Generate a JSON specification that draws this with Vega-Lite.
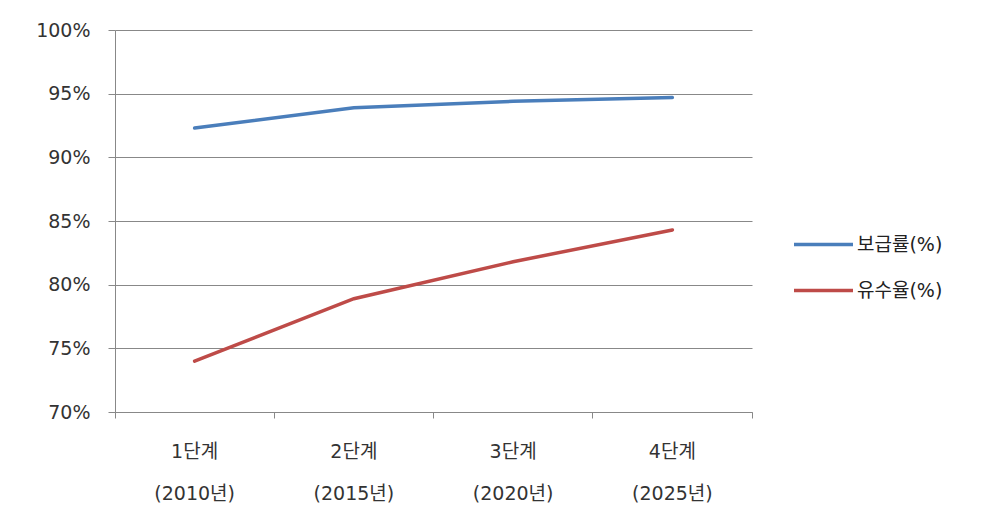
{
  "$schema": "https://vega.github.io/schema/vega-lite/v6.json",
  "width": 637,
  "height": 382,
  "autosize": {"type": "none"},
  "padding": {"left": 115, "top": 30, "right": 245, "bottom": 114},
  "background": "white",
  "config": {"view": {"stroke": null}, "font": "DejaVu Sans, Noto Sans CJK KR"},
  "data": {
    "values": [
      {"stage": "1단계 (2010년)", "series": "보급률(%)", "value": 92.3},
      {"stage": "2단계 (2015년)", "series": "보급률(%)", "value": 93.9},
      {"stage": "3단계 (2020년)", "series": "보급률(%)", "value": 94.4},
      {"stage": "4단계 (2025년)", "series": "보급률(%)", "value": 94.7},
      {"stage": "1단계 (2010년)", "series": "유수율(%)", "value": 74.0},
      {"stage": "2단계 (2015년)", "series": "유수율(%)", "value": 78.9},
      {"stage": "3단계 (2020년)", "series": "유수율(%)", "value": 81.8},
      {"stage": "4단계 (2025년)", "series": "유수율(%)", "value": 84.3}
    ]
  },
  "mark": {"type": "line", "strokeWidth": 3.5, "strokeCap": "round"},
  "encoding": {
    "x": {
      "field": "stage",
      "type": "nominal",
      "sort": null,
      "bandPosition": 0.5,
      "scale": {"type": "band", "paddingInner": 0, "paddingOuter": 0},
      "axis": {
        "title": null,
        "labelAngle": 0,
        "labelExpr": "datum.value ? split(datum.value, ' ') : ''",
        "labelFontSize": 19,
        "labelLineHeight": 42,
        "labelColor": "#333333",
        "labelPadding": 24,
        "labelBaseline": "top",
        "bandPosition": 1,
        "tickExtra": true,
        "tickSize": 6,
        "tickColor": "#888888",
        "domainColor": "#888888",
        "grid": false
      }
    },
    "y": {
      "field": "value",
      "type": "quantitative",
      "scale": {"domain": [70, 100], "nice": false, "zero": false},
      "axis": {
        "title": null,
        "values": [70, 75, 80, 85, 90, 95, 100],
        "labelExpr": "datum.value + '%'",
        "labelFontSize": 19,
        "labelColor": "#333333",
        "labelPadding": 18,
        "tickSize": 7,
        "tickColor": "#888888",
        "domainColor": "#888888",
        "gridColor": "#888888",
        "gridOpacity": 1
      }
    },
    "color": {
      "field": "series",
      "type": "nominal",
      "scale": {"domain": ["보급률(%)", "유수율(%)"], "range": ["#4A7EBB", "#BE4B48"]},
      "legend": {
        "title": null,
        "orient": "none",
        "legendX": 677,
        "legendY": 183,
        "padding": 0,
        "symbolType": "stroke",
        "symbolSize": 3481,
        "symbolStrokeWidth": 3.5,
        "labelFontSize": 19,
        "labelColor": "#222222",
        "labelOffset": 2,
        "rowPadding": 4
      }
    }
  }
}
